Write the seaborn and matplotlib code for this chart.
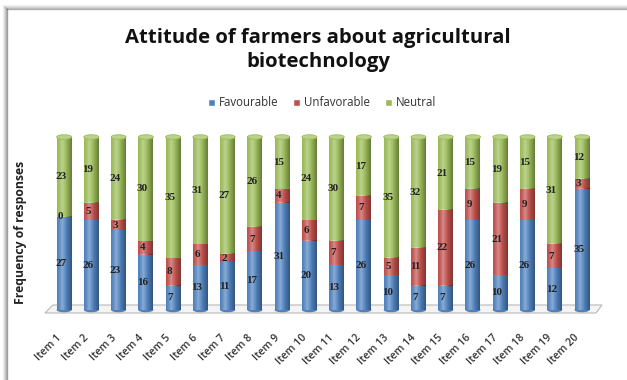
import numpy as np
import pandas as pd
import matplotlib
matplotlib.use("Agg")
import matplotlib.pyplot as plt
from matplotlib.patches import Ellipse, Polygon, Rectangle
from matplotlib.transforms import ScaledTranslation
import seaborn as sns

items = [f"Item {i}" for i in range(1, 21)]
favourable = [27, 26, 23, 16, 7, 13, 11, 17, 31, 20, 13, 26, 10, 7, 7, 26, 10, 26, 12, 35]
unfavorable = [0, 5, 3, 4, 8, 6, 2, 7, 4, 6, 7, 7, 5, 11, 22, 9, 21, 9, 7, 3]
neutral = [23, 19, 24, 30, 35, 31, 27, 26, 15, 24, 30, 17, 35, 32, 21, 15, 19, 15, 31, 12]

series_names = ["Favourable", "Unfavorable", "Neutral"]
colors = ["#4F81BD", "#C0504D", "#9BBB59"]
cap_colors = ["#7FA3D3", "#D98381", "#B9D48A"]

sns.set_theme(style="white")
plt.rcParams["font.family"] = ["Open Sans", "DejaVu Sans"]

df = pd.DataFrame({"item": items, "Favourable": favourable,
                   "Unfavorable": unfavorable, "Neutral": neutral})
totals = df[series_names].sum(axis=1)
pct = df[series_names].div(totals, axis=0) * 100

W, H = 627, 380
fig = plt.figure(figsize=(W / 100, H / 100), dpi=100)
fig.patch.set_facecolor("white")

# page frame with soft shadow on the left and top
for i, a in enumerate([0.05, 0.1, 0.16, 0.24, 0.35]):
    fig.add_artist(plt.Line2D([(3 + i) / W, (3 + i) / W], [0, 1 - (5 + i) / H],
                              transform=fig.transFigure, color="black", alpha=a, lw=1))
    fig.add_artist(plt.Line2D([(3 + i) / W, 1], [1 - (5 + i) / H, 1 - (5 + i) / H],
                              transform=fig.transFigure, color="black", alpha=a * 0.8, lw=1))

left, right, bottom, top = 45, 600, 310, 137
ax = fig.add_axes([left / W, 1 - bottom / H, (right - left) / W, (bottom - top) / H])
ax.set_facecolor("none")

base = np.zeros(len(items))
for name, col in zip(series_names, colors):
    sns.barplot(x=df["item"], y=pct[name], bottom=base, color=col, width=0.55,
                saturation=1, ax=ax, zorder=2, linewidth=0)
    base = base + pct[name].values

# cylinder shading on each bar segment
n = 64
t = np.linspace(0, 1, n)
shade = np.zeros((1, n, 4))
light = np.clip(1 - np.abs(t - 0.35) / 0.35, 0, 1) ** 1.5
dark = np.clip((t - 0.55) / 0.45, 0, 1) ** 1.3
shade[0, :, :3] = np.where(light[:, None] > dark[:, None], 1.0, 0.0)
shade[0, :, 3] = np.maximum(light * 0.35, dark * 0.35)
for p in ax.patches:
    x0, y0, w, h = p.get_x(), p.get_y(), p.get_width(), p.get_height()
    if h <= 0:
        continue
    ax.imshow(shade, extent=(x0, x0 + w, y0, y0 + h), aspect="auto",
              zorder=3, interpolation="bilinear")

# elliptical caps at the top and base of each cylinder
for i in range(len(items)):
    ax.add_patch(Ellipse((i, 100), 0.55, 2.6, facecolor=cap_colors[2],
                         edgecolor=colors[2], lw=0.6, zorder=4, clip_on=False))
    ax.add_patch(Ellipse((i, 0), 0.55, 2.6, facecolor=colors[0],
                         edgecolor="none", zorder=1.5, clip_on=False))

# value labels in the middle of each segment
label_font = dict(family=["Liberation Serif", "DejaVu Serif"], fontsize=8,
                  color="#222222", fontweight="bold", ha="center", va="center", zorder=6)
base = np.zeros(len(items))
for name in series_names:
    for i in range(len(items)):
        yc = base[i] + pct[name].iloc[i] / 2
        ax.text(i - 0.12, yc, str(df[name].iloc[i]), **label_font)
    base = base + pct[name].values

ax.set_ylim(0, 100)
ax.set_xlim(-0.70, 19.66)

# floor of the plot area
floor = Polygon([[45 / W, 1 - 313 / H], [53 / W, 1 - 305 / H], [602 / W, 1 - 305 / H],
                 [596 / W, 1 - 313 / H]], closed=True, transform=fig.transFigure,
                facecolor="#F4F4F4", edgecolor="#B8B8B8", lw=0.8, zorder=0)
fig.add_artist(floor)
ax.set_zorder(2)

for s in ax.spines.values():
    s.set_visible(False)
ax.set_yticks([])
ax.set_ylabel("")
ax.set_xlabel("")
ax.tick_params(axis="x", length=0, pad=16)
ax.set_xticks(range(len(items)))
ax.set_xticklabels(items, rotation=45, ha="right", rotation_mode="anchor",
                   fontsize=7.6, color="#333333", fontweight="semibold")
shift = ScaledTranslation(-8 / 100, 0, fig.dpi_scale_trans)
for lbl in ax.get_xticklabels():
    lbl.set_transform(lbl.get_transform() + shift)

fig.text(0.032, 1 - 232 / H, "Frequency of responses", rotation=90, ha="center",
         va="center", fontsize=8.8, fontweight="bold", color="#222222")

fig.text(318 / W, 1 - 50 / H, "Attitude of farmers about agricultural\nbiotechnology",
         ha="center", va="center", fontsize=14.6, fontweight="bold", color="#111111",
         linespacing=1.3)

handles = [Rectangle((0, 0), 1, 1, facecolor=c) for c in colors]
fig.legend(handles, series_names, loc="center", bbox_to_anchor=(322 / W, 1 - 103 / H),
           ncol=3, frameon=False, fontsize=8.3, handlelength=0.6, handleheight=0.6,
           handletextpad=0.35, columnspacing=1.3, labelcolor="#333333")

fig.savefig("out.png", dpi=100, facecolor="white")
